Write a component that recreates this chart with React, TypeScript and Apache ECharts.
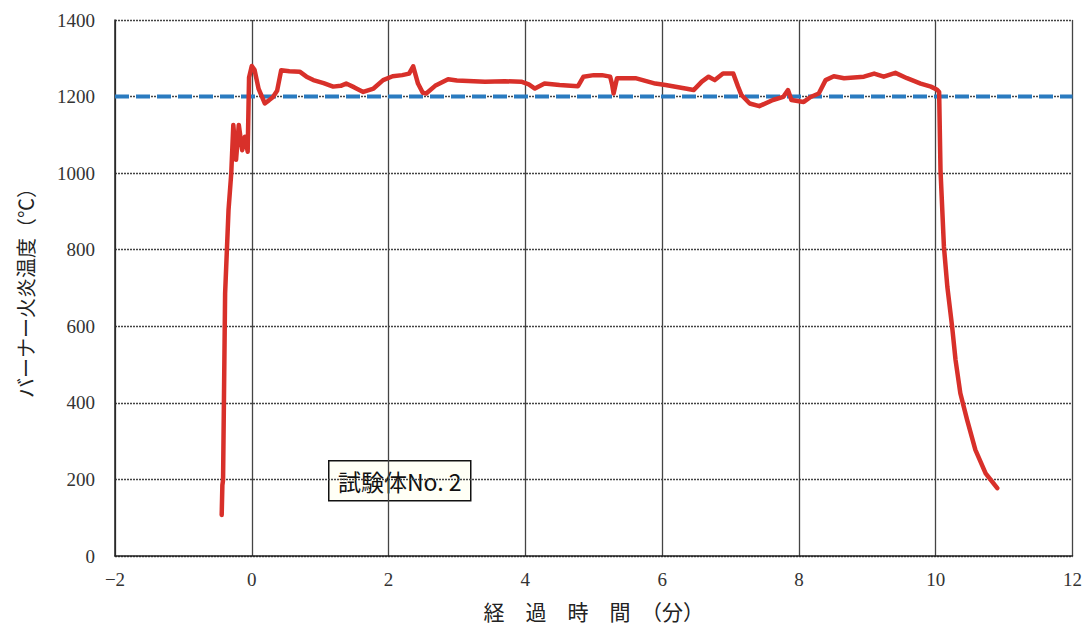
import React, { useEffect, useRef } from "react";
import * as echarts from "echarts";

const xTicks = [-2, 0, 2, 4, 6, 8, 10, 12];
const yTicks = [0, 200, 400, 600, 800, 1000, 1200, 1400];

const timeMin = [
  -0.44, -0.43, -0.42, -0.39, -0.34, -0.30, -0.27, -0.23, -0.19, -0.14, -0.10, -0.06, -0.04, 0.0,
  0.04, 0.10, 0.19, 0.25, 0.31, 0.37, 0.43, 0.55, 0.70, 0.80, 0.90, 1.05, 1.19, 1.30, 1.38, 1.50,
  1.63, 1.78, 1.92, 2.06, 2.20, 2.30, 2.36, 2.43, 2.50, 2.55, 2.68, 2.87, 3.00, 3.41, 3.70, 3.94,
  4.05, 4.14, 4.28, 4.50, 4.77, 4.85, 5.00, 5.12, 5.24, 5.27, 5.29, 5.34, 5.61, 5.90, 6.05, 6.34,
  6.46, 6.58, 6.68, 6.77, 6.89, 7.04, 7.11, 7.16, 7.28, 7.42, 7.62, 7.77, 7.84, 7.89, 8.07, 8.17,
  8.29, 8.39, 8.51, 8.66, 8.95, 9.10, 9.24, 9.41, 9.58, 9.78, 9.93, 10.02, 10.05, 10.07, 10.12,
  10.17, 10.24, 10.29, 10.36, 10.46, 10.58, 10.73, 10.90,
];
const flameTemp = [
  107, 185, 198, 686, 904, 1000, 1126, 1035, 1126, 1060, 1095, 1056, 1250, 1280,
  1270, 1220, 1182, 1190, 1199, 1215, 1269, 1266, 1265, 1252, 1243, 1235, 1226, 1228, 1234, 1224,
  1212, 1221, 1243, 1253, 1256, 1260, 1279, 1234, 1210, 1208, 1228, 1245, 1242, 1239, 1240, 1239,
  1232, 1221, 1234, 1230, 1227, 1252, 1256, 1256, 1252, 1230, 1208, 1248, 1248, 1234, 1230, 1221,
  1217, 1239, 1252, 1243, 1260, 1260, 1226, 1204, 1182, 1175, 1191, 1199, 1217, 1191, 1186, 1199,
  1208, 1243, 1253, 1248, 1252, 1260, 1252, 1262, 1248, 1234, 1226, 1218, 1212, 1008, 808,
  703, 599, 512, 425, 355, 277, 216, 177,
];

const standardTime = [-2, 12];
const standardTemp = [1200, 1200];

const specimenLabel = "試験体No. 2";
const xName = "経　過　時　間　（分）";
const yName = "バーナー火炎温度（℃）";

export default function App() {
  const ref = useRef<HTMLDivElement>(null);
  useEffect(() => {
    if (!ref.current) return;
    const chart = echarts.init(ref.current, null, { renderer: "svg" });
    const serif = "'Liberation Serif', 'DejaVu Serif', serif";
    const jp = "'Noto Sans CJK JP', sans-serif";
    chart.setOption({
      animation: false,
      backgroundColor: "#ffffff",
      grid: { left: 115, right: 12, top: 20, bottom: 76, containLabel: false },
      xAxis: {
        type: "value",
        min: -2,
        max: 12,
        interval: 2,
        name: xName,
        nameLocation: "middle",
        nameGap: 44,
        nameTextStyle: { fontFamily: jp, fontSize: 21, color: "#222" },
        axisLine: { show: true, onZero: false, lineStyle: { color: "#222", width: 1.5 } },
        axisTick: { show: false },
        axisLabel: {
          fontFamily: serif,
          fontSize: 19,
          color: "#333",
          margin: 14,
          formatter: (v: number) => (xTicks.includes(v) ? String(v).replace("-", "−") : ""),
        },
        splitLine: { show: true, lineStyle: { color: "#444", width: 1.3 } },
      },
      yAxis: {
        type: "value",
        min: 0,
        max: 1400,
        interval: 200,
        name: yName,
        nameLocation: "middle",
        nameRotate: 90,
        nameGap: 80,
        nameTextStyle: { fontFamily: jp, fontSize: 20, color: "#222" },
        axisLine: { show: true, onZero: false, lineStyle: { color: "#222", width: 1.5 } },
        axisTick: { show: false },
        axisLabel: {
          fontFamily: serif,
          fontSize: 19,
          color: "#333",
          margin: 20,
          formatter: (v: number) => (yTicks.includes(v) ? String(v) : ""),
        },
        splitLine: { show: true, lineStyle: { color: "#444", width: 1.3, type: [2, 1] } },
      },
      series: [
        {
          type: "line",
          name: "標準加熱",
          data: standardTime.map((t, i) => [t, standardTemp[i]]),
          showSymbol: false,
          lineStyle: { color: "#2a7bc0", width: 4, type: [14, 7] },
          z: 3,
        },
        {
          type: "line",
          name: specimenLabel,
          data: timeMin.map((t, i) => [t, flameTemp[i]]),
          showSymbol: false,
          lineStyle: { color: "#d8302a", width: 4.5, join: "round", cap: "round" },
          z: 4,
        },
      ],
      graphic: [
        {
          type: "group",
          left: 328,
          top: 460,
          children: [
            {
              type: "rect",
              shape: { x: 0, y: 0, width: 142, height: 40 },
              style: { fill: "#fffff6", stroke: "#111", lineWidth: 1.5 },
            },
            {
              type: "text",
              x: 71,
              y: 20,
              style: {
                text: specimenLabel,
                font: "23px 'Noto Sans CJK JP', sans-serif",
                fill: "#111",
                align: "center",
                verticalAlign: "middle",
              },
            },
          ],
        },
      ],
    });
    return () => chart.dispose();
  }, []);
  return (
    <div
      ref={ref}
      style={{ position: "fixed", left: 0, top: 0, width: 1085, height: 632, background: "#fff" }}
    />
  );
}
